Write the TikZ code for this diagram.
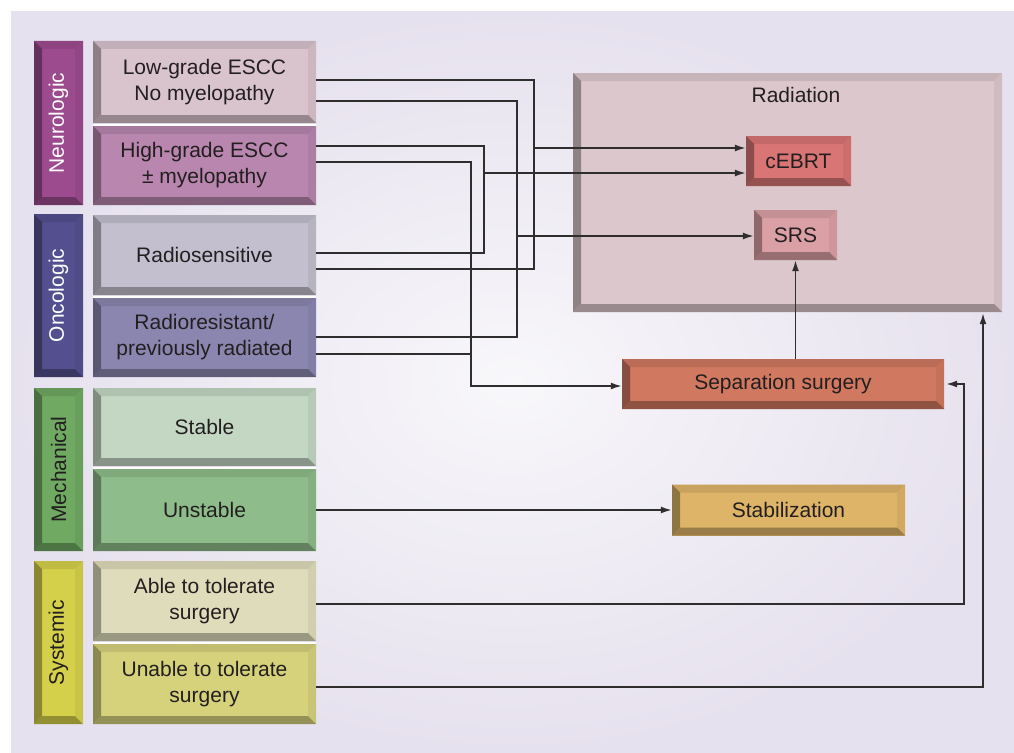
\documentclass[tikz,border=0pt]{standalone}
\usepackage{fontspec}
\setmainfont{Liberation Sans}
\usetikzlibrary{arrows.meta,calc}
\definecolor{bgout}{HTML}{E6E1EE}
\definecolor{bgin}{HTML}{F8F7FA}
\definecolor{txt}{HTML}{231F20}
\definecolor{ln}{HTML}{2E2E2E}
\definecolor{cNeuro}{HTML}{9C4B8E}
\definecolor{cOnco}{HTML}{54508F}
\definecolor{cMech}{HTML}{70A962}
\definecolor{cSyst}{HTML}{D5D04A}
\definecolor{cLow}{HTML}{D9C3CD}
\definecolor{cHigh}{HTML}{B886AE}
\definecolor{cRS}{HTML}{C3BFCE}
\definecolor{cRR}{HTML}{8B86B0}
\definecolor{cStable}{HTML}{C3D7C3}
\definecolor{cUnst}{HTML}{8EBC8A}
\definecolor{cAble}{HTML}{DEDCBA}
\definecolor{cUnable}{HTML}{D6D27C}
\definecolor{cRad}{HTML}{DCC8CC}
\definecolor{cCE}{HTML}{D97575}
\definecolor{cSRS}{HTML}{DBA0A5}
\definecolor{cSep}{HTML}{D07860}
\definecolor{cStab}{HTML}{DEB468}
\tikzset{
  bevbox/.style={draw=none, fill=#1, inner sep=0pt, align=center, text=txt,
    path picture={
      \def\bw{8pt}
      \coordinate (bnw) at (path picture bounding box.north west);
      \coordinate (bne) at (path picture bounding box.north east);
      \coordinate (bsw) at (path picture bounding box.south west);
      \coordinate (bse) at (path picture bounding box.south east);
      \fill[#1!90!black] (bnw) -- (bne) -- ([xshift=-\bw,yshift=-\bw]bne) -- ([xshift=\bw,yshift=-\bw]bnw) -- cycle;
      \fill[#1!94!black] (bne) -- (bse) -- ([xshift=-\bw,yshift=\bw]bse) -- ([xshift=-\bw,yshift=-\bw]bne) -- cycle;
      \fill[#1!69!black] (bse) -- (bsw) -- ([xshift=\bw,yshift=\bw]bsw) -- ([xshift=-\bw,yshift=\bw]bse) -- cycle;
      \fill[#1!65!black] (bsw) -- (bnw) -- ([xshift=\bw,yshift=-\bw]bnw) -- ([xshift=\bw,yshift=\bw]bsw) -- cycle;
    }},
  catbox/.style={bevbox=#1, minimum width=49pt, minimum height=164pt},
  itembox/.style={bevbox=#1, minimum width=223pt},
  catlabel/.style={rotate=90, inner sep=0pt},
  conn/.style={draw=ln, line width=1.6pt},
  arr/.style={conn, -{Latex[length=11pt,width=7pt]}},
  sepline/.style={draw=white, line width=2pt},
  every node/.append style={font=\fontsize{21}{26}\selectfont}
}
\begin{document}
\begin{tikzpicture}[x=1pt,y=-1pt]
\useasboundingbox (0,0) rectangle (1014,752);
\shade[inner color=bgin, outer color=bgout] (11,12) rectangle (1014,752);

% category boxes
\node[catbox=cNeuro] (neuro) at (58.5,123) {};
\node[catlabel, text=white] (neurol) at (neuro.center) {Neurologic};
\node[catbox=cOnco, minimum height=163pt] (onco) at (58.5,295.5) {};
\node[catlabel, text=white] (oncol) at (onco.center) {Oncologic};
\node[catbox=cMech, minimum height=163pt] (mech) at (58.5,469.5) {};
\node[catlabel, text=txt] (mechl) at (mech.center) {Mechanical};
\node[catbox=cSyst, minimum height=163pt] (syst) at (58.5,642.5) {};
\node[catlabel, text=txt] (systl) at (syst.center) {Systemic};

% item boxes
\node[itembox=cLow, minimum height=82pt] (low) at (204.5,82) {Low-grade ESCC\\No myelopathy};
\node[itembox=cHigh, minimum height=79pt] (high) at (204.5,165.5) {High-grade ESCC\\± myelopathy};
\node[itembox=cRS, minimum height=80pt] (rs) at (204.5,255) {Radiosensitive};
\node[itembox=cRR, minimum height=79pt] (rr) at (204.5,337.5) {Radioresistant/\\previously radiated};
\node[itembox=cStable, minimum height=78pt] (stable) at (204.5,427) {Stable};
\node[itembox=cUnst, minimum height=82pt] (unst) at (204.5,510) {Unstable};
\node[itembox=cAble, minimum height=80pt] (able) at (204.5,601) {Able to tolerate\\surgery};
\node[itembox=cUnable, minimum height=80pt] (unable) at (204.5,684) {Unable to tolerate\\surgery};

\draw[sepline] (93,124.5) -- (316,124.5);
\draw[sepline] (93,297) -- (316,297);
\draw[sepline] (93,467.5) -- (316,467.5);
\draw[sepline] (93,642.5) -- (316,642.5);

% right side
\node[bevbox=cRad, minimum width=429pt, minimum height=239pt] (rad) at (787.5,192.5) {};
\node[inner sep=0pt, text=txt] (radl) at (796,95) {Radiation};
\node[bevbox=cCE, minimum width=105pt, minimum height=50pt] (ce) at (798.5,161) {cEBRT};
\node[bevbox=cSRS, minimum width=83pt, minimum height=50pt] (srs) at (795.5,235) {SRS};
\node[bevbox=cSep, minimum width=322pt, minimum height=50pt] (sep) at (783,384) {Separation surgery};
\node[bevbox=cStab, minimum width=233pt, minimum height=51pt] (stab) at (788.5,510) {Stabilization};

% connectors
\draw[conn] (low.east |- 0,80) -| (534,269) -- (rs.east |- 0,269);
\draw[arr] (534,148) -- (ce.west |- 0,148);
\draw[conn] (low.east |- 0,101) -| (517,337) -- (rr.east |- 0,337);
\draw[arr] (517,236) -- (srs.west |- 0,236);
\draw[conn] (high.east |- 0,146) -| (484,253) -- (rs.east |- 0,253);
\draw[arr] (484,173) -- (ce.west |- 0,173);
\draw[arr] (high.east |- 0,162) -| (471,386) -- (sep.west |- 0,386);
\draw[conn] (rr.east |- 0,354) -- (471,354);
\draw[arr] (sep.north -| srs.south) -- (srs.south);
\draw[arr] (unst.east) -- (unst.east -| stab.west);
\draw[arr] (able.east |- 0,604) -| (964,384) -- ([xshift=2pt]sep.east);
\draw[arr] (unable.east |- 0,687) -| ([yshift=-1pt]rad.south -| 983,0);
\end{tikzpicture}
\end{document}
